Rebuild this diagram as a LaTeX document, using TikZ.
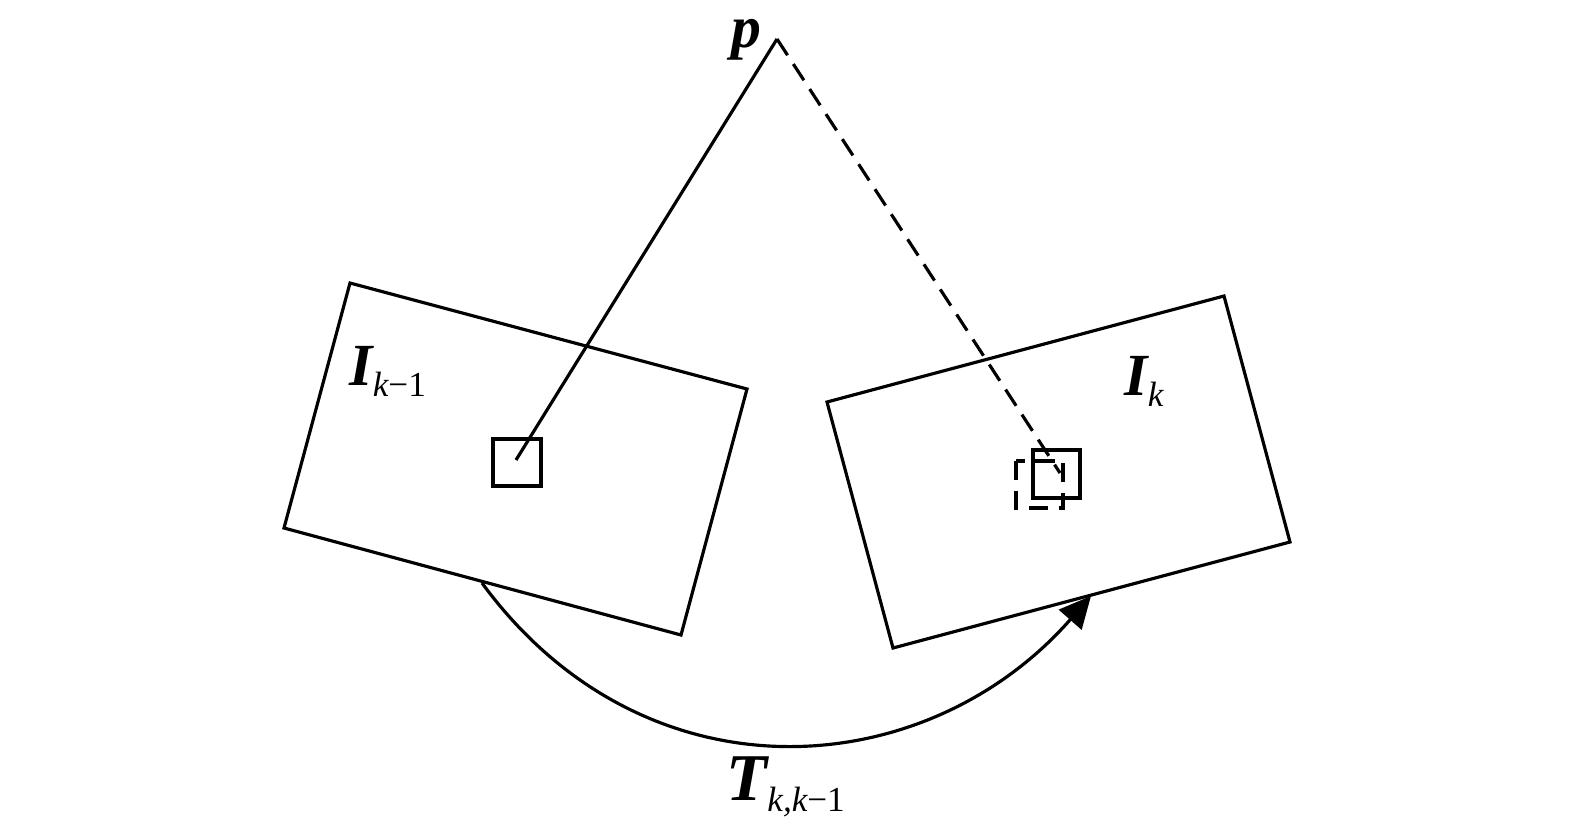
\documentclass[tikz,border=0pt]{standalone}
\usepackage{fontspec}
\setmainfont{Liberation Serif}
\usetikzlibrary{arrows.meta}
\newcommand{\lowsub}[1]{\raisebox{-3.3pt}{\fontsize{10}{11}\selectfont #1}}

\begin{document}
\begin{tikzpicture}[x=0.01cm, y=-0.01cm, line width=0.9pt, line join=miter,
  lbl/.style={font=\fontsize{17}{20}\selectfont\bfseries\itshape, inner sep=0pt, anchor=base west},
  dashline/.style={dash pattern=on 5.5pt off 3pt}]
\useasboundingbox (0,0) rectangle (1575,833);
% the two image planes
\draw (350,283) -- (747,389) -- (681,635) -- (284,528) -- cycle;
\draw (827,402) -- (1224,296) -- (1290,542) -- (893,648) -- cycle;
\node[lbl] (ilast) at (348,385) {I\lowsub{\mdseries\itshape k\upshape −1}};
\node[lbl] (icur) at (1123,395) {I\lowsub{\mdseries\itshape k}};
% 3d point and its projections
\coordinate (p) at (777,39);
\node[lbl] (plabel) at (730,47) {p};
\coordinate (uold) at (516,460);
\coordinate (unew) at (1060,473);
\draw (493,439) rectangle (541,486);
\draw (1033,450) rectangle (1080,498);
\draw[dashline] (1016,461) rectangle (1063,508);
\draw (p) -- (uold);
\draw[dashline] (p) -- (unew);
% relative motion
\coordinate (tstart) at (482,583);
\coordinate (tend) at (1091,596);
\draw[-{Triangle[length=9pt,width=8.5pt]}] (tstart) .. controls (645,805) and (925,785) .. (tend);
\node[lbl, font=\fontsize{19}{22}\selectfont\bfseries\itshape] (tlabel) at (725,800) {T\lowsub{\mdseries\itshape k,k\upshape −1}};
\end{tikzpicture}
\end{document}
